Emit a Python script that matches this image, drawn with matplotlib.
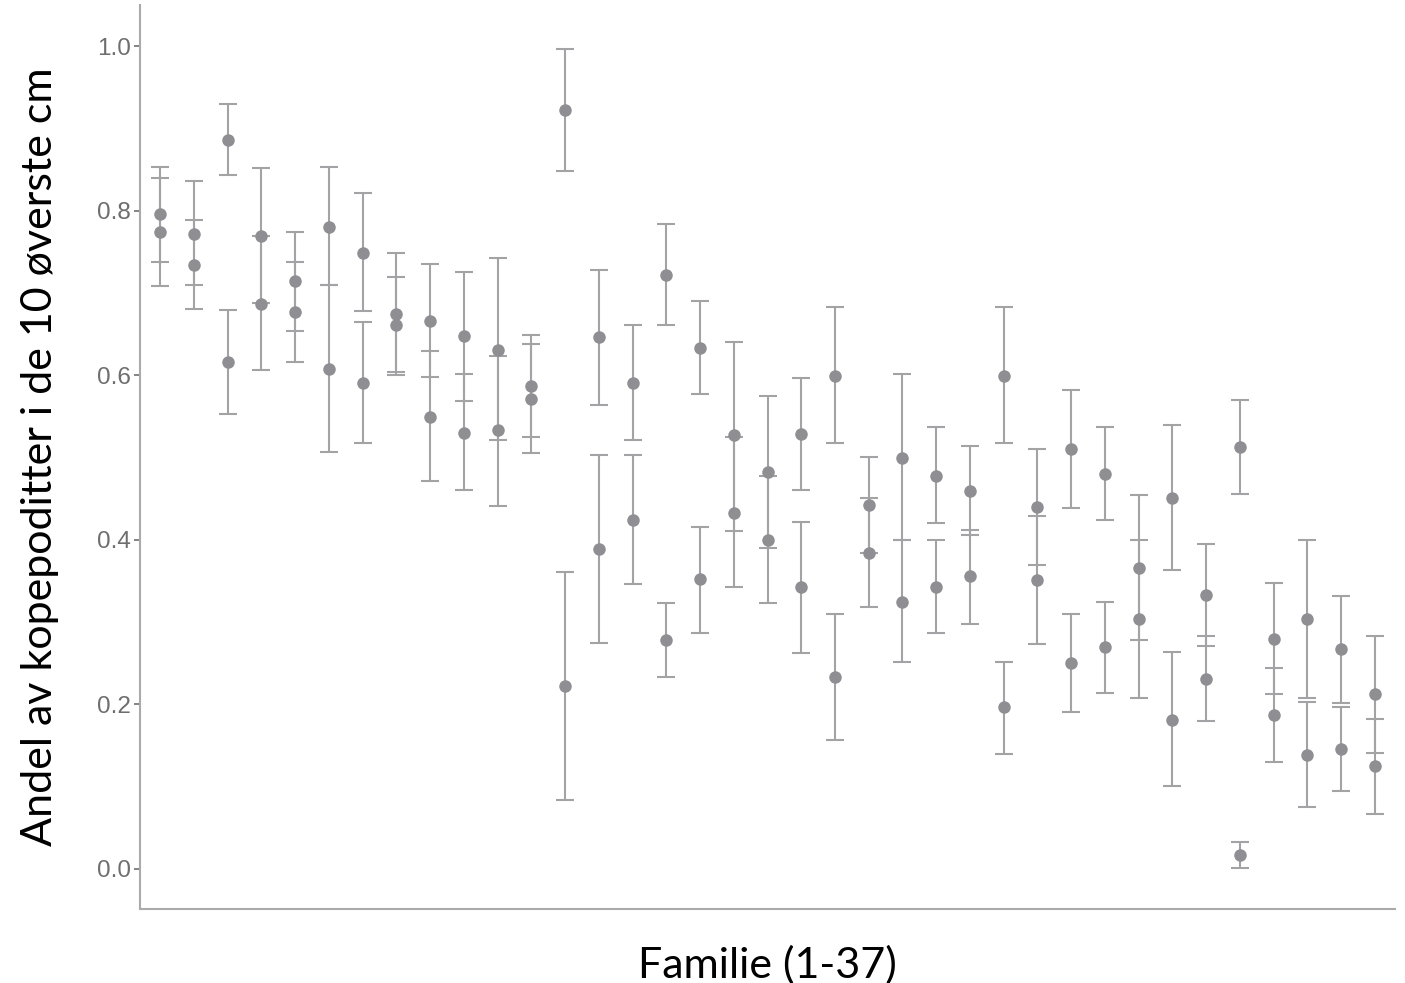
import matplotlib
matplotlib.use("Agg")
import matplotlib.pyplot as plt
import numpy as np

family = list(range(1, 38))
p1 = [0.796, 0.772, 0.886, 0.769, 0.714, 0.780, 0.749, 0.674, 0.666, 0.648, 0.631, 0.587,
      0.922, 0.646, 0.591, 0.722, 0.633, 0.527, 0.482, 0.528, 0.599, 0.442, 0.499, 0.478,
      0.459, 0.599, 0.440, 0.510, 0.480, 0.366, 0.451, 0.333, 0.513, 0.279, 0.304, 0.267, 0.212]
lo1 = [0.738, 0.709, 0.843, 0.688, 0.654, 0.709, 0.678, 0.600, 0.598, 0.569, 0.521, 0.525,
       0.848, 0.564, 0.521, 0.661, 0.577, 0.411, 0.390, 0.460, 0.517, 0.384, 0.399, 0.420,
       0.406, 0.517, 0.369, 0.438, 0.424, 0.278, 0.363, 0.271, 0.456, 0.212, 0.207, 0.201, 0.141]
hi1 = [0.853, 0.836, 0.930, 0.852, 0.774, 0.853, 0.821, 0.749, 0.735, 0.726, 0.742, 0.649,
       0.996, 0.728, 0.661, 0.784, 0.690, 0.640, 0.575, 0.596, 0.683, 0.501, 0.602, 0.537,
       0.514, 0.683, 0.510, 0.582, 0.537, 0.454, 0.540, 0.395, 0.570, 0.347, 0.400, 0.332, 0.283]
p2 = [0.774, 0.734, 0.616, 0.687, 0.677, 0.608, 0.591, 0.661, 0.549, 0.530, 0.533, 0.571,
      0.222, 0.389, 0.424, 0.278, 0.352, 0.433, 0.400, 0.343, 0.233, 0.384, 0.324, 0.342,
      0.356, 0.196, 0.351, 0.250, 0.269, 0.304, 0.181, 0.231, 0.017, 0.187, 0.138, 0.146, 0.125]
lo2 = [0.708, 0.680, 0.553, 0.606, 0.616, 0.507, 0.517, 0.604, 0.471, 0.460, 0.441, 0.505,
       0.084, 0.274, 0.346, 0.233, 0.287, 0.343, 0.323, 0.262, 0.156, 0.318, 0.251, 0.287,
       0.298, 0.140, 0.273, 0.190, 0.213, 0.208, 0.100, 0.179, 0.001, 0.130, 0.075, 0.094, 0.066]
hi2 = [0.840, 0.789, 0.679, 0.769, 0.738, 0.709, 0.665, 0.719, 0.629, 0.602, 0.623, 0.638,
       0.361, 0.503, 0.503, 0.323, 0.416, 0.525, 0.478, 0.422, 0.310, 0.451, 0.399, 0.399,
       0.412, 0.251, 0.429, 0.310, 0.324, 0.400, 0.264, 0.283, 0.033, 0.244, 0.203, 0.197, 0.182]
yticks = [0.0, 0.2, 0.4, 0.6, 0.8, 1.0]

fig = plt.figure(figsize=(14.05, 9.83), dpi=100)
ax = fig.add_axes([140/1405, 74/983, 1255/1405, 904/983])

bar_col = "#a3a3a6"
pt_col = "#8e8e93"
x = np.array(family)
for p, lo, hi in [(p1, lo1, hi1), (p2, lo2, hi2)]:
    p = np.array(p); lo = np.array(lo); hi = np.array(hi)
    ax.errorbar(x, p, yerr=[p - lo, hi - p], fmt="none", ecolor=bar_col,
                elinewidth=1.5, capsize=6.2, capthick=1.5, zorder=2)
    ax.plot(x, p, "o", color=pt_col, markersize=9, markeredgewidth=0, zorder=3)

ax.set_xlim(0.4, 37.6)
ax.set_ylim(-0.049, 1.05)
ax.set_xticks([])
ax.set_yticks(yticks)
ax.set_yticklabels([f"{t:.1f}" for t in yticks], fontsize=17.5, color="#6e6e6e",
                   family="Liberation Sans")
ax.tick_params(axis="y", length=4.5, width=1.2, color="#6e6e6e", pad=2)
for s in ["top", "right"]:
    ax.spines[s].set_visible(False)
for s in ["left", "bottom"]:
    ax.spines[s].set_color("#aaaaaa")
    ax.spines[s].set_linewidth(1.5)

ax.set_ylabel("Andel av kopepoditter i de 10 øverste cm", fontsize=31, family="Lato",
              color="black", labelpad=27)
ax.set_xlabel("Familie (1-37)", fontsize=31, family="Lato", color="black", labelpad=26)

fig.savefig("out.png", dpi=100)
